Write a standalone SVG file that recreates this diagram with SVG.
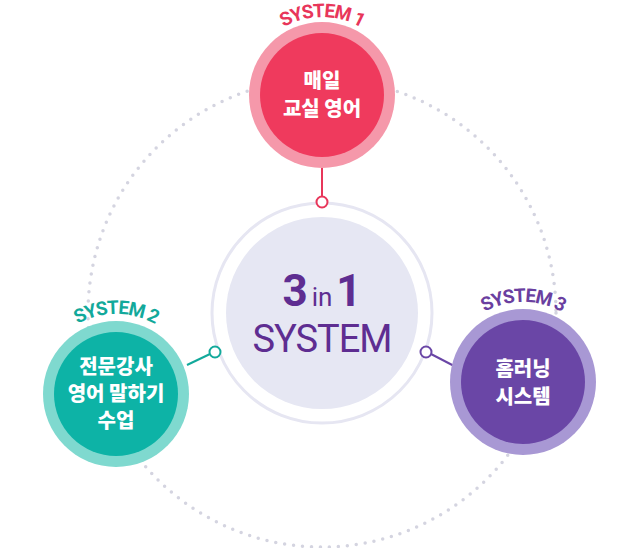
<svg xmlns="http://www.w3.org/2000/svg" width="640" height="548" viewBox="0 0 640 548">
<style>
.lbl{font-family:Roboto,"Liberation Sans",sans-serif;font-weight:bold;font-size:19px;letter-spacing:-1.2px}
.kr{font-family:"Noto Sans CJK KR",sans-serif;font-weight:900;font-size:20px;fill:#fff;text-anchor:middle}
</style>
<defs>
<path id="a1" d="M254.5,56 A78,78 0 0 1 389.5,56"/>
<path id="a2" d="M46.7,354 A80,80 0 0 1 185.3,354"/>
<path id="a3" d="M453.7,342 A80,80 0 0 1 592.3,342"/>
</defs>
<circle cx="322" cy="313" r="234" fill="none" stroke="#d4d4e0" stroke-width="3.5" stroke-dasharray="0 9" stroke-linecap="round"/>
<g id="center">
<circle cx="322" cy="313" r="110" fill="#fff" stroke="#e6e6f2" stroke-width="3"/>
<circle cx="322" cy="313" r="96" fill="#e6e7f3"/>
<text x="322" y="306" text-anchor="middle" font-family="Roboto,'Liberation Sans',sans-serif" font-weight="bold" fill="#5e2d91"><tspan font-size="44">3</tspan><tspan font-size="26" dx="4" font-weight="normal">in</tspan><tspan font-size="44" dx="4">1</tspan></text>
<text x="322" y="352" text-anchor="middle" font-family="Roboto,'Liberation Sans',sans-serif" font-size="38" fill="#5e2d91" letter-spacing="-1">SYSTEM</text>
</g>
<g id="connectors" fill="#fff" stroke-width="2">
<line x1="322" y1="168" x2="322" y2="197" stroke="#e8365a"/>
<circle cx="322" cy="202" r="5.5" stroke="#e8365a"/>
<line x1="187" y1="365" x2="210" y2="354" stroke="#12a99b"/>
<circle cx="215" cy="352" r="5.5" stroke="#12a99b"/>
<line x1="431" y1="354" x2="458" y2="368" stroke="#6a46a6"/>
<circle cx="426" cy="352" r="5.5" stroke="#6a46a6"/>
</g>
<g id="system1">
<circle cx="322" cy="95" r="73" fill="#f598aa"/>
<circle cx="322" cy="95" r="62" fill="#ef3a5d"/>
<text class="kr" x="322" y="88">매일</text>
<text class="kr" x="322" y="116">교실 영어</text>
<text class="lbl" fill="#e8365a"><textPath href="#a1" startOffset="50%" text-anchor="middle">SYSTEM 1</textPath></text>
</g>
<g id="system2">
<circle cx="116" cy="394" r="73" fill="#7fd9cf"/>
<circle cx="116" cy="394" r="62" fill="#0db3a6"/>
<text class="kr" x="116" y="374">전문강사</text>
<text class="kr" x="116" y="401">영어 말하기</text>
<text class="kr" x="116" y="428">수업</text>
<text class="lbl" fill="#12a99b"><textPath href="#a2" startOffset="50%" text-anchor="middle">SYSTEM 2</textPath></text>
</g>
<g id="system3">
<circle cx="523" cy="382" r="73" fill="#a898d4"/>
<circle cx="523" cy="382" r="62" fill="#6a46a6"/>
<text class="kr" x="523" y="376">홈러닝</text>
<text class="kr" x="523" y="404">시스템</text>
<text class="lbl" fill="#6a3fa0"><textPath href="#a3" startOffset="50%" text-anchor="middle">SYSTEM 3</textPath></text>
</g>
</svg>
